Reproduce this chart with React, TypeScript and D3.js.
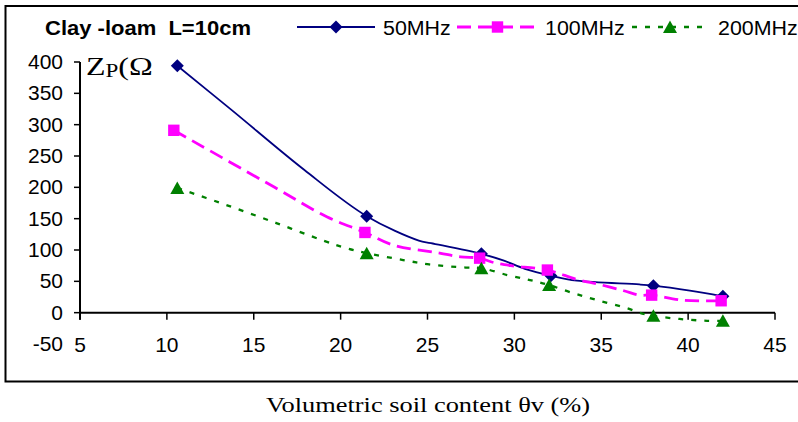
import React from "react";
import * as d3 from "d3";

const xTicks = [5, 10, 15, 20, 25, 30, 35, 40, 45];
const yTicks = [-50, 0, 50, 100, 150, 200, 250, 300, 350, 400];

const seriesNames = ["50MHz", "100MHz", "200MHz"];

// marker points
const mx50 = [10.6, 21.5, 28.1, 32.1, 38.0, 42.0];
const my50 = [394, 154, 94, 59, 43, 26];
const mx100 = [10.4, 21.4, 28.0, 31.9, 37.9, 41.9];
const my100 = [291, 128, 87, 68, 28, 19];
const mx200 = [10.6, 21.5, 28.1, 32.0, 38.0, 42.0];
const my200 = [199, 95, 71, 44, -5, -13];

// extra points along the drawn curves
const tx50 = [13.7, 17.9, 24.5, 25.2, 29.4, 30.6, 33.6, 37.2, 40.1];
const ty50 = [324, 228, 115, 111, 83, 70, 51, 45, 35];
const tx100 = [16.2, 19.2, 23.0, 25.7, 26.9, 28.8, 29.8, 33.6, 34.9, 36.3, 37.2, 39.7];
const ty100 = [200, 153, 108, 95, 89, 80, 75, 53, 45, 35, 28, 20];
const tx200 = [13.4, 16.3, 19.0, 20.3, 23.6, 25.1, 27.2, 29.6, 30.9, 33.4, 34.9, 36.5, 37.2, 39.5, 41.1];
const ty200 = [172, 143, 115, 103, 84, 77, 72, 60, 52, 31, 19, 7, 0, -10, -13];

const W = 798;
const H = 422;
const x = d3.scaleLinear().domain([5, 45]).range([80, 775]);
const y = d3.scaleLinear().domain([-50, 400]).range([344, 62]);

const SANS = "'Liberation Sans', Arial, sans-serif";
const SERIF = "'Liberation Serif', 'Times New Roman', serif";

function merge(mx: number[], my: number[], tx: number[], ty: number[]) {
  const pts: [number, number][] = [];
  mx.forEach((v, i) => pts.push([v, my[i]]));
  tx.forEach((v, i) => pts.push([v, ty[i]]));
  pts.sort((a, b) => a[0] - b[0]);
  return pts;
}

const lineGen = d3
  .line<[number, number]>()
  .x((d) => x(d[0]))
  .y((d) => y(d[1]))
  .curve(d3.curveCatmullRom.alpha(0.5));

const styles = [
  { color: "#000080", width: 1.8, dash: "none", marker: "diamond" },
  { color: "#FF00FF", width: 2.8, dash: "14,7", marker: "square" },
  { color: "#008000", width: 2.3, dash: "5,8", marker: "triangle" },
];

function Marker({ kind, cx, cy, color }: { kind: string; cx: number; cy: number; color: string }) {
  if (kind === "diamond") {
    const r = 6.5;
    return <path d={`M${cx},${cy - r}L${cx + r},${cy}L${cx},${cy + r}L${cx - r},${cy}Z`} fill={color} />;
  }
  if (kind === "square") {
    const r = 5.7;
    return <rect x={cx - r} y={cy - r} width={2 * r} height={2 * r} fill={color} />;
  }
  return <path d={`M${cx},${cy - 6.5}L${cx + 7},${cy + 6}L${cx - 7},${cy + 6}Z`} fill={color} />;
}

function T({
  x: tx,
  y: ty,
  sx = 1.08,
  anchor = "start",
  size = 20,
  family = SANS,
  weight = "normal",
  children,
}: any) {
  return (
    <text
      transform={`translate(${tx},${ty}) scale(${sx},1)`}
      textAnchor={anchor}
      fontFamily={family}
      fontSize={size}
      fontWeight={weight}
      fill="#000"
      style={{ whiteSpace: "pre" }}
    >
      {children}
    </text>
  );
}

export default function App() {
  const data = [
    { pts: merge(mx50, my50, tx50, ty50), mx: mx50, my: my50 },
    { pts: merge(mx100, my100, tx100, ty100), mx: mx100, my: my100 },
    { pts: merge(mx200, my200, tx200, ty200), mx: mx200, my: my200 },
  ];
  const legend = [
    { x1: 297, x2: 375, tx: 383 },
    { x1: 457, x2: 538, tx: 545 },
    { x1: 632, x2: 708, tx: 718 },
  ];
  const legendY = 27;
  const y0 = y(0);
  return (
    <svg width={W} height={H} style={{ position: "absolute", left: 0, top: 0 }}>
      <rect x={0} y={0} width={W} height={H} fill="#fff" />
      {/* outer frame */}
      <path d={`M${W + 2},6 L5.5,6 L5.5,381.5 L${W + 2},381.5`} fill="none" stroke="#000" strokeWidth={2} />

      {/* title */}
      <T x={45} y={35} size={20} sx={1.1} weight="bold">
        {"Clay -loam  L=10cm"}
      </T>

      {/* legend */}
      {legend.map((l, i) => (
        <g key={i}>
          <line
            x1={l.x1}
            x2={l.x2}
            y1={legendY}
            y2={legendY}
            stroke={styles[i].color}
            strokeWidth={styles[i].width}
            strokeDasharray={styles[i].dash}
          />
          <Marker kind={styles[i].marker} cx={(l.x1 + l.x2) / 2} cy={legendY} color={styles[i].color} />
          <T x={l.tx} y={35} size={20} sx={1.07}>
            {seriesNames[i]}
          </T>
        </g>
      ))}

      {/* y axis */}
      <line x1={80} x2={80} y1={y(400)} y2={y0 + 7} stroke="#000" strokeWidth={2} />
      {yTicks.map((t) => (
        <g key={t}>
          {t >= 0 && <line x1={74} x2={80} y1={y(t)} y2={y(t)} stroke="#000" strokeWidth={1.5} />}
          <T x={63} y={y(t) + 7} anchor="end" size={20} sx={1.05}>
            {String(t)}
          </T>
        </g>
      ))}

      {/* x axis */}
      <line x1={80} x2={x(45)} y1={y0} y2={y0} stroke="#000" strokeWidth={2} />
      {xTicks.map((t) => (
        <g key={t}>
          <line x1={x(t)} x2={x(t)} y1={y0} y2={y0 + 7} stroke="#000" strokeWidth={1.5} />
          <T x={x(t)} y={352} anchor="middle" size={20} sx={1.05}>
            {String(t)}
          </T>
        </g>
      ))}

      {/* y label */}
      <text transform="translate(86,75) scale(1.28,1)" fontFamily={SERIF} fontSize={25} fill="#000">
        Z<tspan fontSize={18} dy={2}>P</tspan>
        <tspan dy={-2}>(Ω</tspan>
      </text>

      {/* series */}
      {data.map((s, i) => (
        <g key={i}>
          <path
            d={lineGen(s.pts) || ""}
            fill="none"
            stroke={styles[i].color}
            strokeWidth={styles[i].width}
            strokeDasharray={styles[i].dash}
          />
          {s.mx.map((v, j) => (
            <Marker key={j} kind={styles[i].marker} cx={x(v)} cy={y(s.my[j])} color={styles[i].color} />
          ))}
        </g>
      ))}

      {/* x label */}
      <T x={428} y={412} anchor="middle" size={22} sx={1.2} family={SERIF}>
        Volumetric soil content θv (%)
      </T>
    </svg>
  );
}
